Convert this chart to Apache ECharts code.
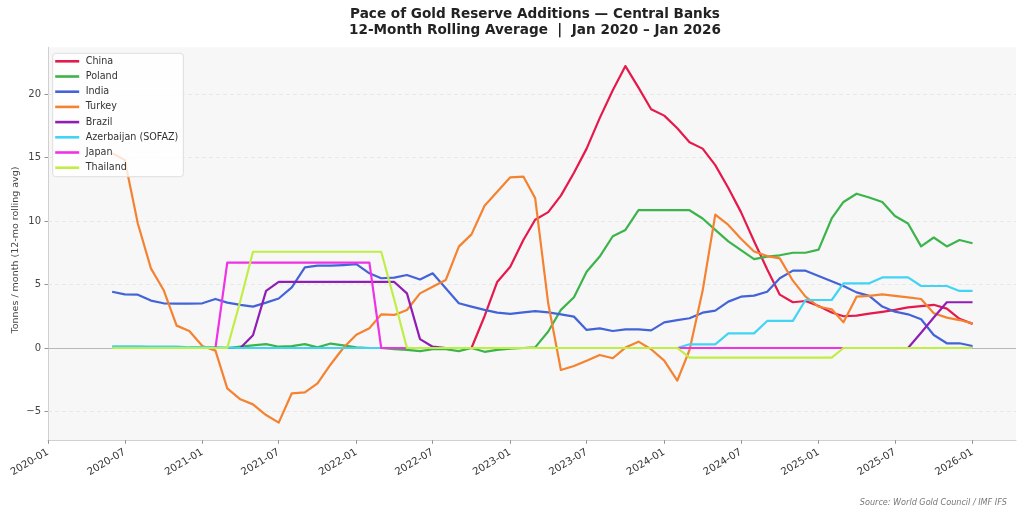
<!DOCTYPE html>
<html>
<head>
<meta charset="utf-8">
<script src="https://cdn.jsdelivr.net/npm/echarts@6/dist/echarts.min.js"></script>
<style>
  html, body { margin: 0; padding: 0; background: #ffffff; }
  #chart { width: 1024px; height: 515px; }
</style>
</head>
<body>
<div id="chart"></div>
<script>
// ---- Data (monthly 12-month rolling average, tonnes / month) ----
const months = [
  '2020-06','2020-07','2020-08','2020-09','2020-10','2020-11','2020-12',
  '2021-01','2021-02','2021-03','2021-04','2021-05','2021-06','2021-07','2021-08','2021-09','2021-10','2021-11','2021-12',
  '2022-01','2022-02','2022-03','2022-04','2022-05','2022-06','2022-07','2022-08','2022-09','2022-10','2022-11','2022-12',
  '2023-01','2023-02','2023-03','2023-04','2023-05','2023-06','2023-07','2023-08','2023-09','2023-10','2023-11','2023-12',
  '2024-01','2024-02','2024-03','2024-04','2024-05','2024-06','2024-07','2024-08','2024-09','2024-10','2024-11','2024-12',
  '2025-01','2025-02','2025-03','2025-04','2025-05','2025-06','2025-07','2025-08','2025-09','2025-10','2025-11','2025-12',
  '2026-01'
];

const china = [
  0,0,0,0,0,0,0, 0,0,0,0,0,0,0,0,0,0,0,0, 0,0,0,0,0,0,0,0,0,0,2.5,5.2,
  6.4,8.5,10.1,10.7,12.0,13.8,15.7,18.1,20.3,22.2,20.5,18.8,
  18.3,17.3,16.2,15.7,14.4,12.6,10.7,8.4,6.2,4.2,3.6,3.7,
  3.3,2.8,2.5,2.55,2.7,2.85,3.0,3.2,3.3,3.4,3.1,2.3,
  1.9
];
const poland = [
  0,0,0,0,0,0,0, 0,0,0,0.1,0.2,0.3,0.1,0.15,0.3,0.05,0.35,0.2,
  0.05,0,0,-0.1,-0.15,-0.25,-0.1,-0.1,-0.25,0,-0.3,-0.15,
  -0.05,0,0.05,1.3,3.0,4.0,6.0,7.2,8.8,9.3,10.85,10.85,
  10.85,10.85,10.85,10.2,9.3,8.4,7.7,7.0,7.2,7.3,7.5,7.5,
  7.75,10.2,11.5,12.15,11.85,11.5,10.4,9.8,8.0,8.7,8.0,8.5,
  8.25
];
const india = [
  4.43,4.22,4.2,3.73,3.52,3.5,3.5,
  3.52,3.86,3.57,3.39,3.26,3.57,3.9,4.78,6.35,6.48,6.48,6.53,
  6.6,5.88,5.49,5.54,5.75,5.4,5.88,4.7,3.52,3.26,3.0,2.78,
  2.68,2.8,2.9,2.8,2.65,2.47,1.42,1.55,1.34,1.47,1.47,1.39,
  2.02,2.2,2.34,2.78,2.94,3.65,4.04,4.12,4.43,5.49,6.09,6.09,
  5.67,5.25,4.88,4.38,4.1,3.26,2.86,2.65,2.26,1.02,0.37,0.37,
  0.16
];
const turkey = [
  15.33,14.8,9.8,6.27,4.57,1.76,1.34,
  0.16,-0.21,-3.18,-4.04,-4.44,-5.28,-5.88,-3.57,-3.49,-2.78,-1.3,0.0,
  1.05,1.55,2.65,2.6,2.99,4.3,4.83,5.35,7.98,8.95,11.2,12.3,
  13.44,13.5,11.8,3.5,-1.73,-1.42,-1.0,-0.55,-0.81,0.03,0.5,-0.1,
  -1.0,-2.57,-0.16,4.5,10.5,9.69,8.6,7.6,7.24,7.06,5.3,4.04,
  3.25,3.05,2.02,4.04,4.1,4.22,4.1,3.99,3.86,2.73,2.39,2.2,
  1.94
];
const brazil = [
  0,0,0,0,0,0,0, 0,0,0,0,1.0,4.5,5.2,5.2,5.2,5.2,5.2,5.2,
  5.2,5.2,5.2,5.2,4.3,0.7,0.1,0,0,0,0,0,
  0,0,0,0,0,0,0,0,0,0,0,0,
  0,0,0,0,0,0,0,0,0,0,0,0,
  0,0,0,0,0,0,0,0,1.2,2.4,3.6,3.6,
  3.6
];
const azerbaijan = [
  0.12,0.12,0.12,0.1,0.1,0.1,0.06,
  0.06,0.06,0.03,0,0,0,0,0,0,0,0,0,
  0,0,0,0,0,0,0,0,0,0,0,0,
  0,0,0,0,0,0,0,0,0,0,0,0,
  0,0,0.29,0.29,0.29,1.15,1.15,1.15,2.13,2.13,2.13,3.78,
  3.78,3.78,5.09,5.09,5.09,5.56,5.56,5.56,4.88,4.88,4.88,4.49,
  4.49
];
const japan = [
  0,0,0,0,0,0,0, 0,0,6.72,6.72,6.72,6.72,6.72,6.72,6.72,6.72,6.72,6.72,
  6.72,6.72,0,0,0,0,0,0,0,0,0,0,
  0,0,0,0,0,0,0,0,0,0,0,0,
  0,0,0,0,0,0,0,0,0,0,0,0,
  0,0,0,0,0,0,0,0,0,0,0,0,
  0
];
const thailand = [
  0,0,0,0,0,0,0, 0,0,0,3.7,7.58,7.58,7.58,7.58,7.58,7.58,7.58,7.58,
  7.58,7.58,7.58,3.8,0,0,0,0,0,0,0,0,
  0,0,0,0,0,0,0,0,0,0,0,0,
  0,0,-0.76,-0.76,-0.76,-0.76,-0.76,-0.76,-0.76,-0.76,-0.76,-0.76,
  -0.76,-0.76,0,0,0,0,0,0,0,0,0,0,
  0
];

const seriesNames = ['China','Poland','India','Turkey','Brazil','Azerbaijan (SOFAZ)','Japan','Thailand'];
const seriesValues = [china, poland, india, turkey, brazil, azerbaijan, japan, thailand];
const seriesColors = ['#e6194b','#3cb44b','#4363d8','#f58231','#911eb4','#42d4f4','#f032e6','#bfef45'];

const yTicks = [-5, 0, 5, 10, 15, 20];
const xTicks = ['2020-01','2020-07','2021-01','2021-07','2022-01','2022-07','2023-01',
                '2023-07','2024-01','2024-07','2025-01','2025-07','2026-01'];
const xRange = ['2020-01-01', '2026-04-14'];

const titleText = 'Pace of Gold Reserve Additions \u2014 Central Banks\n12-Month Rolling Average  |  Jan 2020 \u2013 Jan 2026';
const yAxisName = 'Tonnes / month (12-mo rolling avg)';
const sourceText = 'Source: World Gold Council / IMF IFS';

// ---- helpers ----
function toTime(s) {            // 'YYYY-MM' or 'YYYY-MM-DD' -> UTC timestamp
  const p = s.split('-').map(Number);
  return Date.UTC(p[0], p[1] - 1, p[2] || 1);
}
function fmtMonth(v) {
  const d = new Date(v);
  const m = d.getUTCMonth() + 1;
  return d.getUTCFullYear() + '-' + (m < 10 ? '0' + m : m);
}

// ---- Chart ----
const FONT = '"DejaVu Sans", "Noto Sans", sans-serif';
const chart = echarts.init(document.getElementById('chart'), null, { renderer: 'canvas' });

const series = seriesNames.map((name, k) => ({
  name: name,
  type: 'line',
  data: months.map((m, i) => [toTime(m), seriesValues[k][i]]),
  symbol: 'none',
  showSymbol: false,
  smooth: false,
  z: 3,
  lineStyle: { color: seriesColors[k], width: 2.2, join: 'round', cap: 'butt' },
  itemStyle: { color: seriesColors[k] },
  emphasis: { disabled: true },
  animation: false
}));

// gridlines + zero line drawn through the axis scale
series.unshift({
  name: '__grid',
  type: 'line',
  data: [[toTime(xRange[0]), null]],
  symbol: 'none',
  silent: true,
  animation: false,
  z: 1,
  markLine: {
    silent: true,
    symbol: ['none', 'none'],
    label: { show: false },
    animation: false,
    z: 1,
    data: yTicks.map(v => ({
      yAxis: v,
      lineStyle: v === 0
        ? { color: '#b8b8b8', width: 1, type: 'solid' }
        : { color: '#e3e3e3', width: 0.8, type: [4, 3] }
    }))
  }
});

const option = {
  backgroundColor: '#ffffff',
  animation: false,
  textStyle: { fontFamily: FONT },
  grid: {
    left: 48, right: 8, top: 47.3, bottom: 74.7,
    containLabel: false,
    outerBoundsMode: 'none',
    show: true, backgroundColor: '#f7f7f7', borderWidth: 0
  },
  legend: {
    data: seriesNames,
    orient: 'vertical',
    left: 52.7, top: 53.3,
    icon: 'rect',
    itemWidth: 24, itemHeight: 2.6,
    itemGap: 3.2,
    padding: [2, 5, 3, 2.5],
    backgroundColor: 'rgba(255,255,255,0.8)',
    borderColor: '#dedede', borderWidth: 1, borderRadius: 3,
    textStyle: { fontFamily: FONT, fontSize: 9.6, color: '#333', lineHeight: 12, padding: [0, 0, 0, 1.5] },
    selectedMode: false
  },
  xAxis: {
    type: 'value',
    min: toTime(xRange[0]),
    max: toTime(xRange[1]),
    splitLine: { show: false },
    axisLine: { show: true, onZero: false, lineStyle: { color: '#d0d0d0', width: 1 } },
    axisTick: {
      show: true, length: 3.5, inside: false,
      lineStyle: { color: '#777', width: 0.8 },
      customValues: xTicks.map(toTime)
    },
    axisLabel: {
      show: true, rotate: 31, margin: 11,
      fontFamily: FONT, fontSize: 10.2, color: '#333',
      customValues: xTicks.map(toTime),
      formatter: fmtMonth,
      hideOverlap: false
    }
  },
  yAxis: {
    type: 'value',
    min: -7.27, max: 23.68,
    splitLine: { show: false },
    axisLine: { show: true, onZero: false, lineStyle: { color: '#d0d0d0', width: 1 } },
    axisTick: {
      show: true, length: 3.5, inside: false,
      lineStyle: { color: '#777', width: 0.8 },
      customValues: yTicks
    },
    axisLabel: {
      show: true, margin: 7,
      fontFamily: FONT, fontSize: 10, color: '#444',
      customValues: yTicks,
      formatter: v => String(v).replace('-', '\u2212')
    }
  },
  graphic: [
    {
      type: 'text', x: 535, y: 22.3, silent: true,
      style: {
        text: titleText, textAlign: 'center', textVerticalAlign: 'middle',
        fontFamily: FONT, fontSize: 13.6, fontWeight: 'bold', fill: '#222', lineHeight: 15.5
      }
    },
    {
      type: 'text', x: 16, y: 250, rotation: Math.PI / 2, silent: true,
      style: {
        text: yAxisName, textAlign: 'center', textVerticalAlign: 'middle',
        fontFamily: FONT, fontSize: 9.5, fill: '#444'
      }
    },
    {
      type: 'text', x: 1007, y: 503.3, silent: true,
      style: {
        text: sourceText, textAlign: 'right', textVerticalAlign: 'middle',
        fontFamily: FONT, fontSize: 8.1, fontStyle: 'italic', fill: '#777'
      }
    }
  ],
  series: series
};

chart.setOption(option);
</script>
</body>
</html>
